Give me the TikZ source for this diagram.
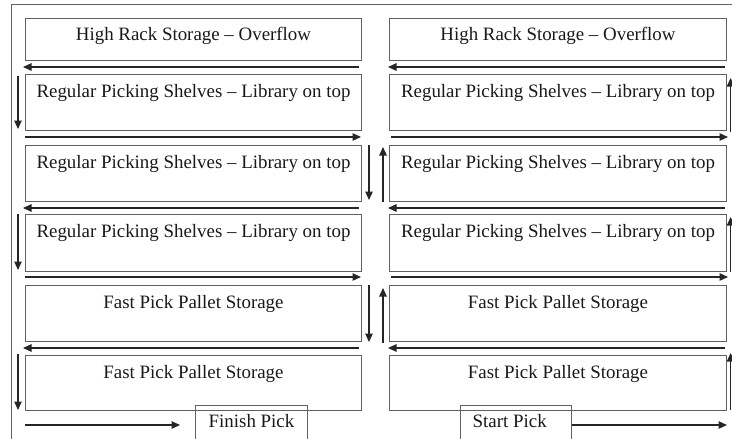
\documentclass[tikz,border=0pt]{standalone}
\usepackage{fontspec}
\setmainfont{Liberation Serif}
\usetikzlibrary{arrows.meta}
\begin{document}
\begin{tikzpicture}[x=1pt,y=-1pt,
  bay/.style={draw=black!62, line width=1pt, inner sep=0pt, anchor=north west},
  lbl/.style={anchor=base, inner sep=0pt, font=\fontsize{18.9}{22}\selectfont, text=black!90},
  flow/.style={draw=black!85, line width=1.1pt, -{Triangle[length=8.5pt,width=7.5pt]}}]
\useasboundingbox (0,0) rectangle (732,439);
\clip (0,0) rectangle (732,439);
% outer frame
\draw[black!62, line width=1pt] (11,460) -- (11,4) -- (760,4);
% storage bays
\foreach \r/\t/\h/\txt in {
  1/18/42/{High Rack Storage – Overflow},
  2/74/56/{Regular Picking Shelves – Library on top},
  3/145/55.5/{Regular Picking Shelves – Library on top},
  4/214/56.5/{Regular Picking Shelves – Library on top},
  5/285/56/{Fast Pick Pallet Storage},
  6/355/55/{Fast Pick Pallet Storage}} {
  \node[bay, minimum width=336pt, minimum height=\h pt] (L\r) at (25,\t) {};
  \node[lbl] (tL\r) at ([yshift=-23pt]L\r.north) {\txt};
  \node[bay, minimum width=337pt, minimum height=\h pt] (R\r) at (389,\t) {};
  \node[lbl] (tR\r) at ([yshift=-23pt]R\r.north) {\txt};
}
% finish / start
\node[bay, minimum width=112pt, minimum height=45pt] (fin) at (195,405) {};
\node[lbl] (tfin) at ([yshift=-22.5pt]fin.north) {Finish Pick};
\node[bay, minimum width=111pt, minimum height=45pt] (st) at (460,405) {};
\node[lbl, anchor=base west] (tst) at ([xshift=12.5pt,yshift=-22.5pt]st.north west) {Start Pick};
% aisle flow coordinates
\foreach \n/\ax/\ay/\bx/\by in {
  h1/359/67/23/67, h2/725/67/388/67,
  h3/25/137/361/137, h4/391/137/728/137,
  h5/359/208/23/208, h6/725/208/388/208,
  h7/25/277/361/277, h8/391/277/728/277,
  h9/359/348/23/348, h10/725/348/388/348,
  h11/25/425/180/425,
  v1/18/76/18/129, v2/18/214/18/270, v3/18/354/18/410,
  v4/369/145/369/200, v5/369/285/369/342,
  v6/383/202/383/147, v7/383/343/383/288,
  v8/730.6/132/730.6/78, v9/730.6/272/730.6/217, v10/730.6/410/730.6/353} {
  \coordinate (\n a) at (\ax,\ay);
  \coordinate (\n b) at (\bx,\by);
  \draw[flow] (\n a) -- (\n b);
}
\coordinate (endR) at (727,425);
\draw[flow] (st.east |- endR) -- (endR);
\end{tikzpicture}
\end{document}
